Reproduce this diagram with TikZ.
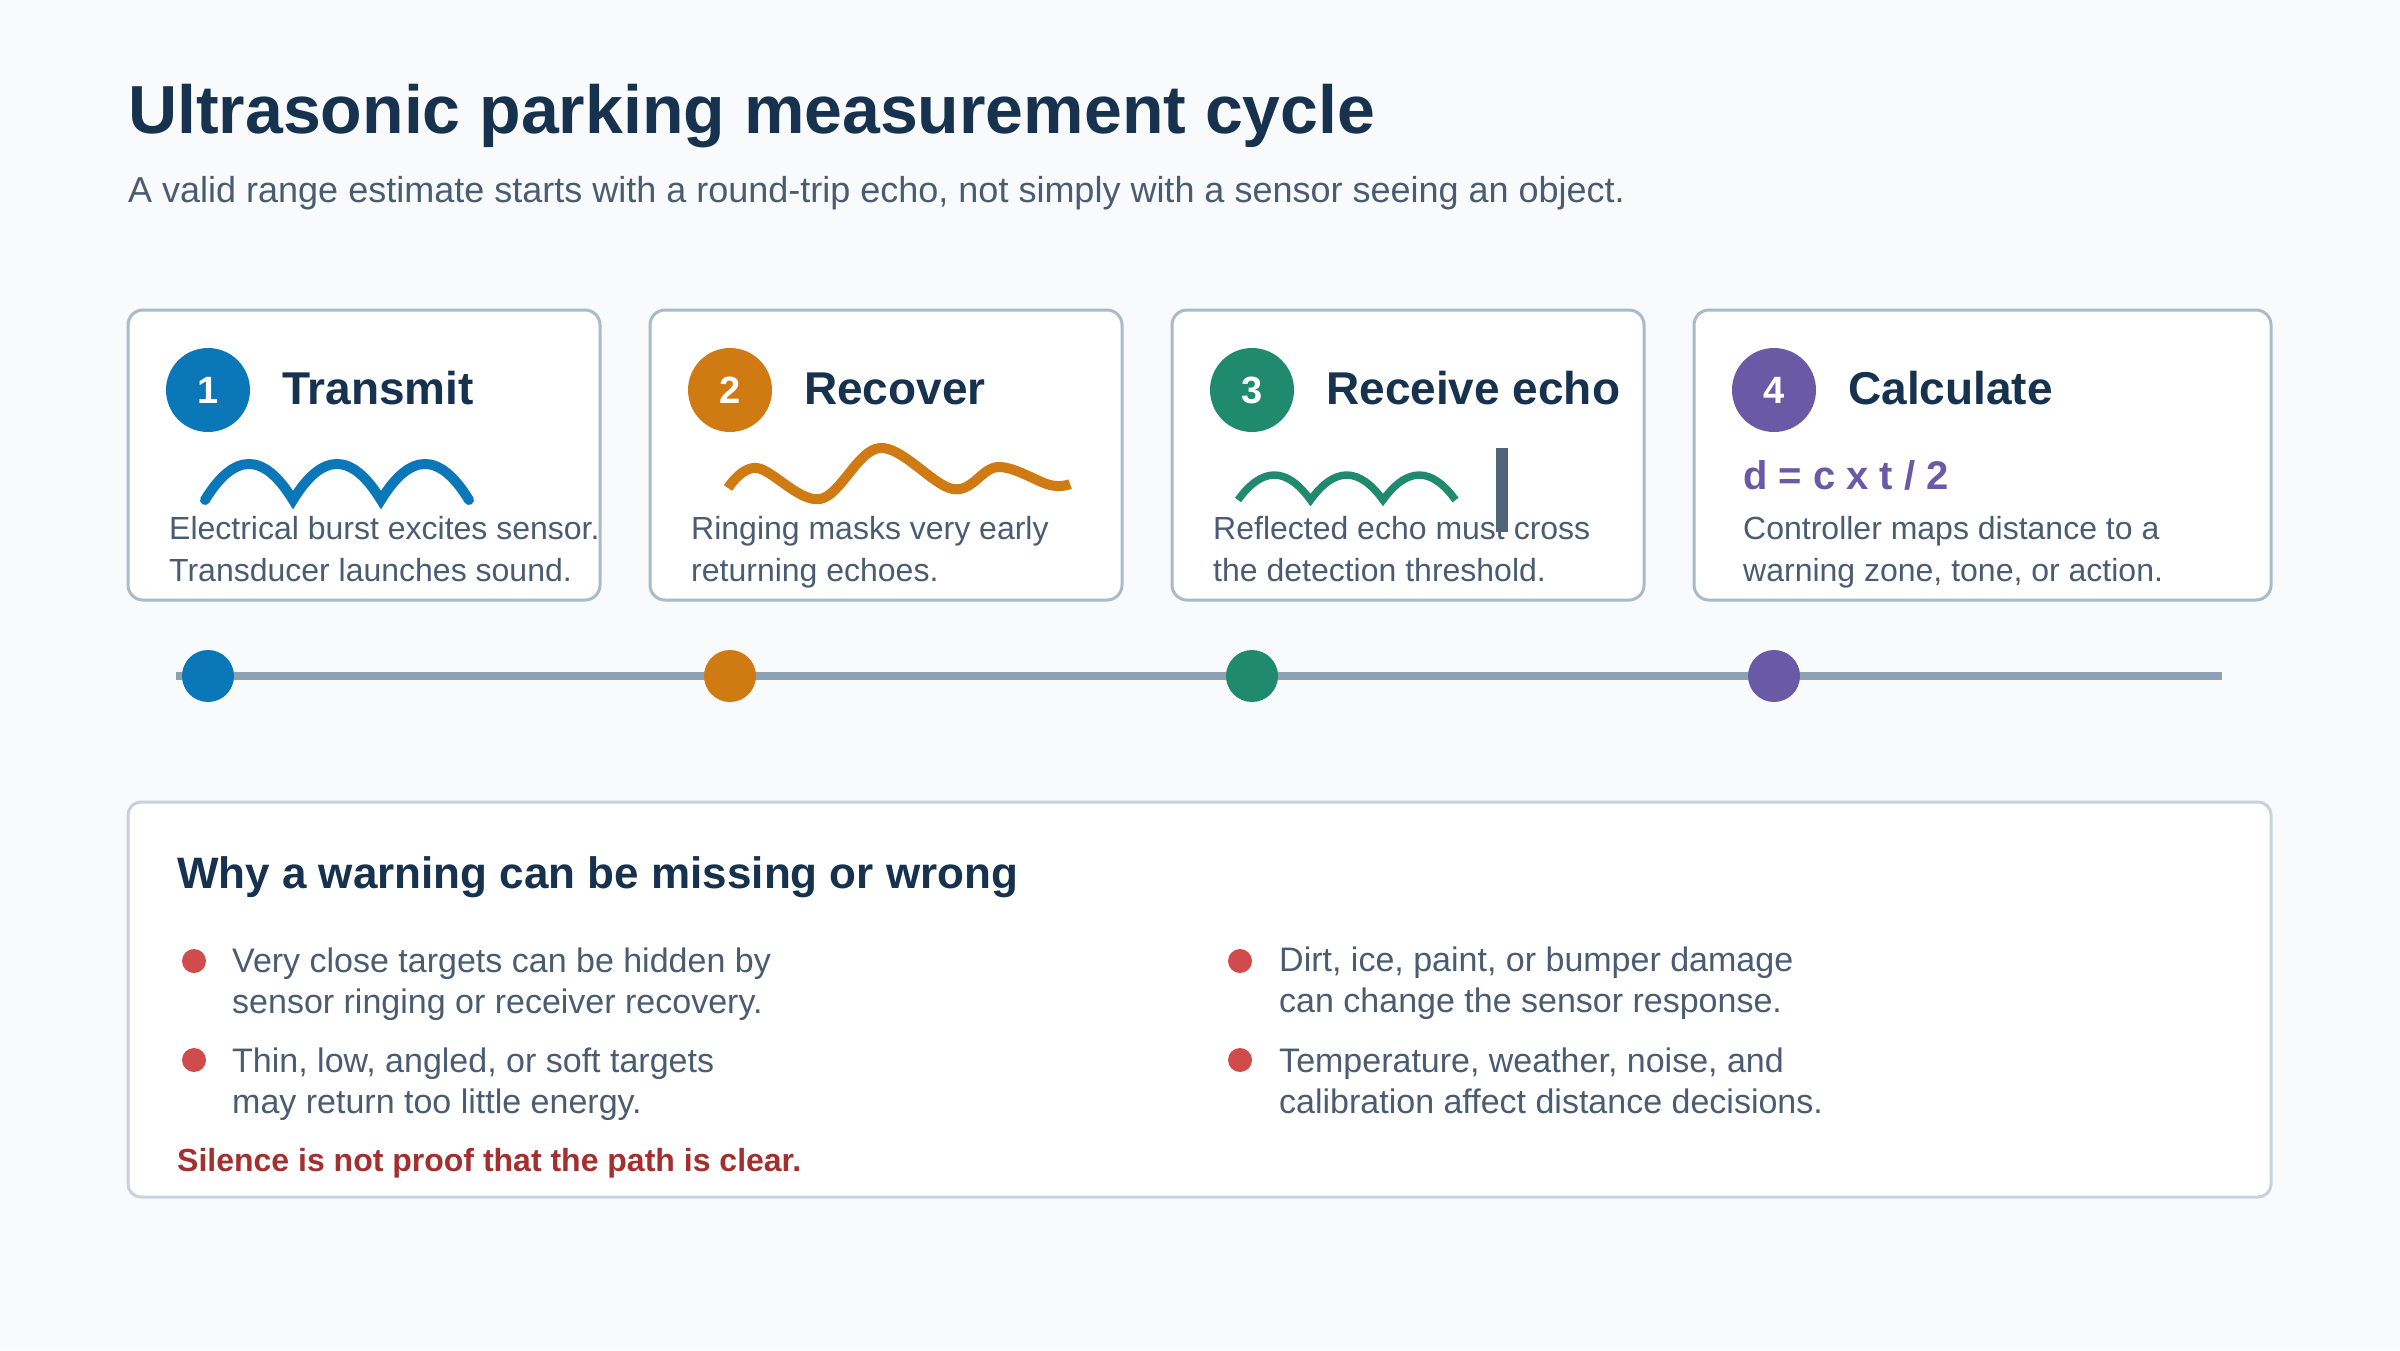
\documentclass[tikz,border=0pt]{standalone}
\usepackage{fontspec}
\setmainfont{Liberation Sans}
\definecolor{bg}{HTML}{F8FAFC}
\definecolor{navy}{HTML}{16324F}
\definecolor{txt}{HTML}{4A5C72}
\definecolor{cardline}{HTML}{A9BBCB}
\definecolor{panelline}{HTML}{C6D2DD}
\definecolor{cblue}{HTML}{0A78B8}
\definecolor{corange}{HTML}{D07A13}
\definecolor{cgreen}{HTML}{1F8A6E}
\definecolor{cpurple}{HTML}{6A59A5}
\definecolor{cred}{HTML}{D04B4B}
\definecolor{dred}{HTML}{A3302F}
\definecolor{tlgray}{HTML}{8EA1B3}
\definecolor{slate}{HTML}{506479}
\begin{document}
\begin{tikzpicture}[x=1pt,y=-1pt,
  card/.style={draw=cardline, line width=3pt, fill=white, rounded corners=15pt, anchor=north west, inner sep=0pt, outer sep=0pt, minimum height=290pt},
  panel/.style={draw=panelline, line width=3pt, fill=white, rounded corners=13pt, anchor=north west, inner sep=0pt, outer sep=0pt},
  badge/.style={circle, inner sep=0pt, minimum size=84pt},
  badgenum/.style={anchor=base, inner sep=0pt, text=white, font=\fontsize{38}{40}\selectfont\bfseries},
  tdot/.style={circle, inner sep=0pt, minimum size=52pt},
  bdot/.style={circle, inner sep=0pt, minimum size=24pt, fill=cred},
  ctitle/.style={anchor=base west, inner sep=0pt, text=navy, font=\fontsize{46}{52}\selectfont\bfseries},
  desc/.style={anchor=base west, inner sep=0pt, text=txt, font=\fontsize{32}{42}\selectfont},
  btxt/.style={anchor=base west, inner sep=0pt, text=txt, font=\fontsize{34}{41}\selectfont},
]
\useasboundingbox[fill=bg] (0,0) rectangle (2400,1350);

% header
\node[anchor=base west, inner sep=0pt, text=navy, font=\fontsize{68}{76}\selectfont\bfseries] (title) at (128,133) {Ultrasonic parking measurement cycle};
\node[anchor=base west, inner sep=0pt, text=txt, font=\fontsize{36}{42}\selectfont] (subtitle) at (128,202) {A valid range estimate starts with a round-trip echo, not simply with a sensor seeing an object.};

% cards
\node[card, minimum width=472pt] (card1) at (128,310) {};
\node[card, minimum width=472pt] (card2) at (650,310) {};
\node[card, minimum width=472pt] (card3) at (1172,310) {};
\node[card, minimum width=577pt] (card4) at (1694,310) {};

% badges
\node[badge, fill=cblue] (b1) at (208,390) {};
\node[badge, fill=corange] (b2) at (730,390) {};
\node[badge, fill=cgreen] (b3) at (1252,390) {};
\node[badge, fill=cpurple] (b4) at (1774,390) {};
\node[badgenum] (n1) at (208,403) {1};
\node[badgenum] (n2) at (730,403) {2};
\node[badgenum] (n3) at (1252,403) {3};
\node[badgenum] (n4) at (1774,403) {4};

% card titles
\node[ctitle] (t1) at (282,404) {Transmit};
\node[ctitle] (t2) at (804,404) {Recover};
\node[ctitle] (t3) at (1326,404) {Receive echo};
\node[ctitle] (t4) at (1848,404) {Calculate};

% descriptions
\node[desc] (d1a) at (169,539) {Electrical burst excites sensor.};
\node[desc] (d1b) at (169,581) {Transducer launches sound.};
\node[desc] (d2a) at (691,539) {Ringing masks very early};
\node[desc] (d2b) at (691,581) {returning echoes.};
\node[desc] (d3a) at (1213,539) {Reflected echo must cross};
\node[desc] (d3b) at (1213,581) {the detection threshold.};
\node[desc] (d4a) at (1743,539) {Controller maps distance to a};
\node[desc] (d4b) at (1743,581) {warning zone, tone, or action.};
\node[anchor=base west, inner sep=0pt, text=cpurple, font=\fontsize{40}{44}\selectfont\bfseries] (formula) at (1743,489) {d = c x t / 2};

% waves
\draw[cblue, line width=10pt, line cap=round, line join=miter]
  (205,500) .. controls (234.3,452) and (263.7,452) .. (293,500)
  .. controls (322.3,452) and (351.7,452) .. (381,500)
  .. controls (410.3,452) and (439.7,452) .. (469,500);
\draw[corange, line width=10pt, line join=round]
  plot[smooth, tension=0.6] coordinates {(728,488) (757,468) (820,499) (880,448) (953,489) (998,467) (1050,485) (1070,484)};
\draw[cgreen, line width=7.5pt, line join=miter]
  (1238,500) .. controls (1262.2,466.7) and (1286.3,466.7) .. (1310.5,500)
  .. controls (1334.7,466.7) and (1358.8,466.7) .. (1383,500)
  .. controls (1407.2,466.7) and (1431.3,466.7) .. (1455.5,500);
\coordinate (thrTop) at (1502,448);
\coordinate (thrBot) at (1502,532);
\draw[slate, line width=12pt] (thrTop) -- (thrBot);

% timeline
\coordinate (tlA) at (176,676);
\coordinate (tlB) at (2222,676);
\draw[tlgray, line width=8pt] (tlA) -- (tlB);
\node[tdot, fill=cblue] (p1) at (208,676) {};
\node[tdot, fill=corange] (p2) at (730,676) {};
\node[tdot, fill=cgreen] (p3) at (1252,676) {};
\node[tdot, fill=cpurple] (p4) at (1774,676) {};

% bottom panel
\node[panel, minimum width=2143pt, minimum height=395pt] (panel) at (128,802) {};
\node[anchor=base west, inner sep=0pt, text=navy, font=\fontsize{44}{50}\selectfont\bfseries] (why) at (177,888) {Why a warning can be missing or wrong};
\node[bdot] (u1) at (194,961) {};
\node[bdot] (u2) at (194,1060) {};
\node[bdot] (u3) at (1240,961) {};
\node[bdot] (u4) at (1240,1060) {};
\node[btxt] (w1a) at (232,972) {Very close targets can be hidden by};
\node[btxt] (w1b) at (232,1013) {sensor ringing or receiver recovery.};
\node[btxt] (w2a) at (232,1072) {Thin, low, angled, or soft targets};
\node[btxt] (w2b) at (232,1113) {may return too little energy.};
\node[btxt] (w3a) at (1279,971) {Dirt, ice, paint, or bumper damage};
\node[btxt] (w3b) at (1279,1012) {can change the sensor response.};
\node[btxt] (w4a) at (1279,1072) {Temperature, weather, noise, and};
\node[btxt] (w4b) at (1279,1113) {calibration affect distance decisions.};
\node[anchor=base west, inner sep=0pt, text=dred, font=\fontsize{32}{36}\selectfont\bfseries] (silence) at (177,1171) {Silence is not proof that the path is clear.};
\end{tikzpicture}
\end{document}
